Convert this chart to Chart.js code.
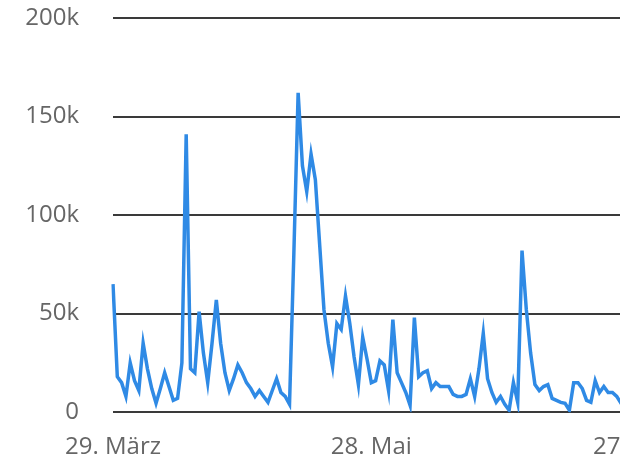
<!DOCTYPE html>
<html>
<head>
<meta charset="utf-8">
<script src="https://cdn.jsdelivr.net/npm/chart.js@4"></script>
<style>
  html, body { margin: 0; padding: 0; background: #fff; overflow: hidden; }
  #wrap { width: 620px; height: 463px; overflow: hidden; }
</style>
</head>
<body>
<div id="wrap"><canvas id="chart" width="680" height="463"></canvas></div>
<script>
  "use strict";

  // daily values (thousands), starting 29. März
  var dailyValues = [
    65, 18, 15, 8, 25, 16, 11, 35, 22, 12,
    4.5, 12, 20, 13, 6, 7, 25, 141, 22, 20,
    51, 30, 15, 35, 57, 35, 20, 11, 17, 24,
    20, 15, 12, 8, 11, 8, 5, 11, 17, 10,
    8, 4, 80, 162, 125, 112, 131, 118, 85, 52,
    35, 23, 45, 42, 59, 45, 28, 14, 38, 27,
    15, 16, 26, 24, 11, 47, 20, 15, 10, 3.5,
    48, 18, 20, 21, 12, 15, 13, 13, 13, 9,
    8, 8, 9, 17, 8, 22, 40, 17, 10, 5,
    8, 4, 1, 15, 5, 82, 52, 30, 14, 11,
    13, 14, 7, 6, 5, 4.5, 1, 15, 15, 12,
    6, 5, 16, 10, 13, 10, 10, 8, 4.5, 6,
    9, 12, 8, 5, 7, 10, 6, 4
  ];

  var monthNames = ["Jan.", "Feb.", "März", "April", "Mai", "Juni", "Juli", "Aug.", "Sept.", "Okt.", "Nov.", "Dez."];
  var startDate = new Date(2020, 2, 29);
  var tickEvery = 60;
  var yTicks = [0, 50000, 100000, 150000, 200000];

  // build the day labels from the start date
  var dayLabels = dailyValues.map(function (v, i) {
    var d = new Date(startDate.getFullYear(), startDate.getMonth(), startDate.getDate() + i);
    return d.getDate() + ". " + monthNames[d.getMonth()];
  });

  var fontFamily = "'Open Sans', 'Noto Sans', sans-serif";

  new Chart(document.getElementById("chart"), {
    type: "line",
    data: {
      labels: dayLabels,
      datasets: [
        {
          label: "Wert",
          data: dailyValues.map(function (v) { return v * 1000; }),
          borderColor: "#2f8ae5",
          borderWidth: 3.5,
          pointRadius: 0,
          tension: 0,
          fill: false,
        },
      ],
    },
    options: {
      responsive: false,
      animation: false,
      layout: { padding: { top: 18, right: 13, bottom: -12, left: 0 } },
      plugins: {
        legend: { display: false },
        tooltip: { enabled: false },
      },
      scales: {
        x: {
          offset: false,
          grid: { display: false },
          border: { display: false },
          ticks: {
            autoSkip: false,
            maxRotation: 0,
            padding: 13,
            color: "#666",
            font: { family: fontFamily, size: 24 },
            callback: function (v, i) {
              return i % tickEvery === 0 ? this.getLabelForValue(v) : null;
            },
          },
        },
        y: {
          min: 0,
          max: 200000,
          afterFit: function (scale) { scale.width = 113; },
          afterBuildTicks: function (scale) {
            scale.ticks = yTicks.map(function (v) { return { value: v }; });
          },
          // invisible tick marks keep the labels away from the grid
          grid: { color: "#3a3a3a", lineWidth: 2, drawTicks: true, tickLength: 34, tickColor: "rgba(0,0,0,0)" },
          border: { display: false },
          ticks: {
            padding: 0,
            color: "#666",
            font: { family: fontFamily, size: 24 },
            callback: function (v) { return v === 0 ? "0" : v / 1000 + "k"; },
          },
        },
      },
    },
  });
</script>
</body>
</html>
